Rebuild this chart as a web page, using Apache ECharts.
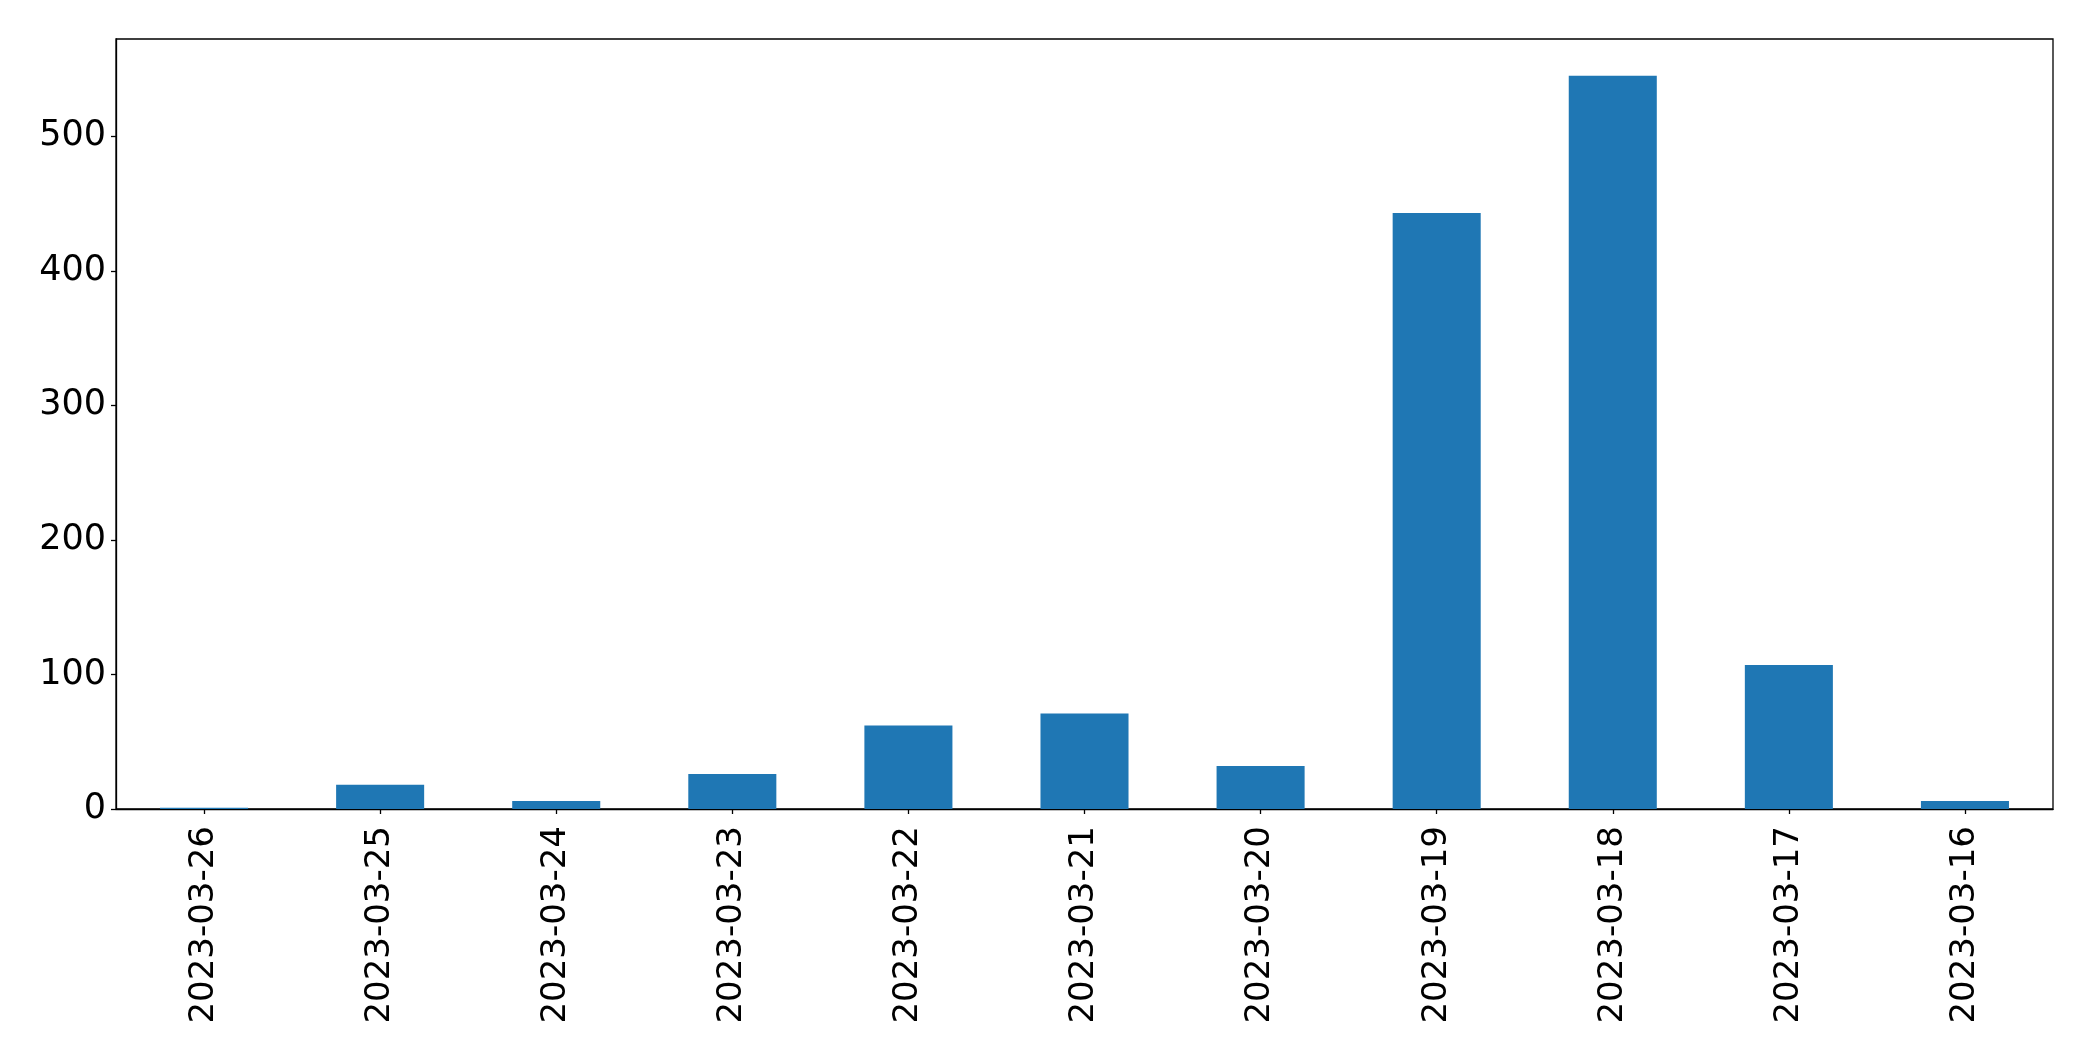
<!DOCTYPE html>
<html>
<head>
<meta charset="utf-8">
<script src="https://cdn.jsdelivr.net/npm/echarts@6/dist/echarts.min.js"></script>
<style>
html,body{margin:0;padding:0;background:#fff;}
#chart{width:2093px;height:1061px;}
</style>
</head>
<body>
<div id="chart"></div>
<script>
const categories = ['2023-03-26','2023-03-25','2023-03-24','2023-03-23','2023-03-22','2023-03-21','2023-03-20','2023-03-19','2023-03-18','2023-03-17','2023-03-16'];
const counts = [1, 18, 6, 26, 62, 71, 32, 443, 545, 107, 6];
const yTicks = [0, 100, 200, 300, 400, 500];

const yMax = Math.max(...counts) * 1.05;
const chart = echarts.init(document.getElementById('chart'));
const font = 'DejaVu Sans';
chart.setOption({
  animation: false,
  backgroundColor: '#ffffff',
  grid: {
    left: 116, right: 40, top: 39, bottom: 252,
    show: true, borderColor: '#000', borderWidth: 1.3, backgroundColor: 'transparent'
  },
  xAxis: {
    type: 'category',
    data: categories,
    boundaryGap: true,
    axisLine: { show: true, lineStyle: { color: '#000', width: 1.3 } },
    axisTick: { show: true, alignWithLabel: true, length: 5, lineStyle: { color: '#000', width: 1.3 } },
    axisLabel: { rotate: 90, margin: 17, color: '#000', fontSize: 34, fontFamily: font, interval: 0 }
  },
  yAxis: {
    type: 'value',
    min: 0,
    max: yMax,
    interval: 100,
    splitLine: { show: false },
    axisLine: { show: true, lineStyle: { color: '#000', width: 1.3 } },
    axisTick: { show: true, length: 5, lineStyle: { color: '#000', width: 1.3 } },
    axisLabel: {
      color: '#000', fontSize: 35, fontFamily: font, margin: 10,
      showMaxLabel: false,
      formatter: function (v) { return yTicks.indexOf(v) >= 0 ? String(v) : ''; }
    }
  },
  series: [{
    type: 'bar',
    data: counts,
    barWidth: '50%',
    itemStyle: { color: '#1f77b4' }
  }]
});
</script>
</body>
</html>
